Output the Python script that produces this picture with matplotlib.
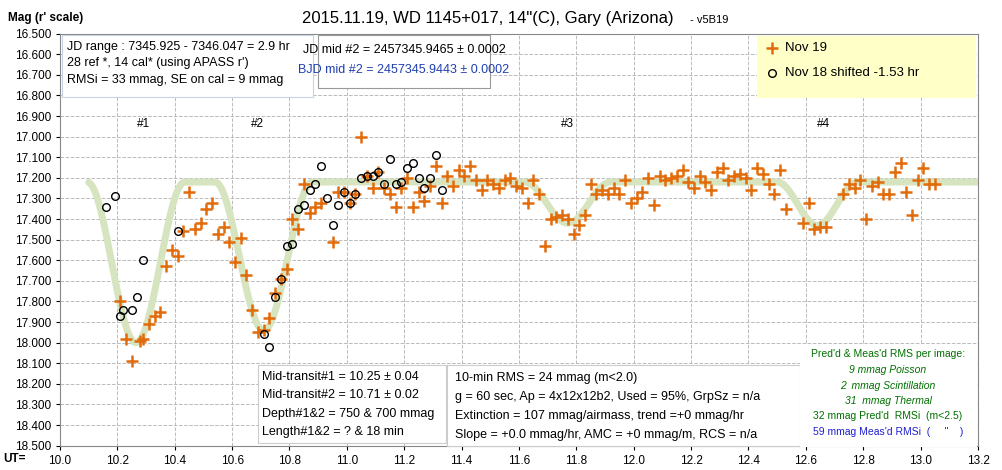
import numpy as np
import matplotlib.pyplot as plt
from matplotlib.patches import Rectangle
from matplotlib.lines import Line2D

plt.rcParams['font.family'] = ['Liberation Sans', 'DejaVu Sans']

# Nov 19 data (UT hr, mag)
nov19_t = [10.21, 10.23, 10.25, 10.28, 10.29, 10.31, 10.33, 10.35, 10.37, 10.39, 10.41, 10.43, 10.45, 10.47,
           10.49, 10.51, 10.53, 10.55, 10.57, 10.59, 10.61, 10.63, 10.65, 10.67, 10.69, 10.71, 10.73, 10.75,
           10.77, 10.79, 10.81, 10.83, 10.85, 10.87, 10.89, 10.91, 10.95, 10.97, 10.99, 11.01, 11.03, 11.05,
           11.07, 11.09, 11.11, 11.13, 11.15, 11.17, 11.19, 11.21, 11.23, 11.25, 11.27, 11.29, 11.31, 11.33,
           11.35, 11.37, 11.39, 11.41, 11.43, 11.45, 11.47, 11.49, 11.51, 11.53, 11.55, 11.57, 11.59, 11.61,
           11.63, 11.65, 11.67, 11.69, 11.71, 11.73, 11.75, 11.77, 11.79, 11.81, 11.83, 11.85, 11.87, 11.89,
           11.91, 11.93, 11.95, 11.97, 11.99, 12.01, 12.03, 12.05, 12.07, 12.09, 12.11, 12.13, 12.15, 12.17,
           12.19, 12.21, 12.23, 12.25, 12.27, 12.29, 12.31, 12.33, 12.35, 12.37, 12.39, 12.41, 12.43, 12.45,
           12.47, 12.49, 12.51, 12.53, 12.59, 12.61, 12.63, 12.65, 12.67, 12.73, 12.75, 12.77, 12.79, 12.81,
           12.83, 12.85, 12.87, 12.89, 12.91, 12.93, 12.95, 12.97, 12.99, 13.01, 13.03, 13.05]
nov19_m = [17.80, 17.98, 18.09, 17.99, 17.98, 17.91, 17.87, 17.85, 17.63, 17.55, 17.58, 17.46, 17.27, 17.45,
           17.42, 17.35, 17.32, 17.47, 17.44, 17.51, 17.61, 17.49, 17.67, 17.84, 17.95, 17.94, 17.88, 17.76,
           17.69, 17.64, 17.40, 17.45, 17.23, 17.37, 17.34, 17.32, 17.51, 17.27, 17.27, 17.32, 17.28, 17.00,
           17.19, 17.25, 17.17, 17.25, 17.28, 17.34, 17.25, 17.20, 17.34, 17.27, 17.31, 17.24, 17.14, 17.32,
           17.19, 17.24, 17.16, 17.19, 17.14, 17.21, 17.26, 17.21, 17.23, 17.25, 17.21, 17.20, 17.24, 17.25,
           17.32, 17.21, 17.28, 17.53, 17.40, 17.39, 17.38, 17.40, 17.47, 17.43, 17.38, 17.23, 17.28, 17.26,
           17.28, 17.25, 17.28, 17.21, 17.32, 17.30, 17.27, 17.20, 17.33, 17.19, 17.21, 17.20, 17.19, 17.16,
           17.22, 17.25, 17.19, 17.22, 17.26, 17.17, 17.15, 17.21, 17.19, 17.18, 17.20, 17.26, 17.15, 17.18,
           17.23, 17.28, 17.16, 17.35, 17.42, 17.32, 17.45, 17.44, 17.44, 17.28, 17.23, 17.25, 17.21, 17.40,
           17.24, 17.22, 17.28, 17.28, 17.17, 17.13, 17.27, 17.38, 17.21, 17.15, 17.23, 17.23]

# Nov 18 shifted data
nov18_t = [10.16, 10.19, 10.21, 10.22, 10.25, 10.27, 10.29, 10.41, 10.71, 10.73, 10.75, 10.77, 10.79, 10.81,
           10.83, 10.85, 10.87, 10.89, 10.91, 10.93, 10.95, 10.97, 10.99, 11.01, 11.03, 11.05, 11.07, 11.09,
           11.11, 11.13, 11.15, 11.17, 11.19, 11.21, 11.23, 11.25, 11.27, 11.29, 11.31, 11.33]
nov18_m = [17.34, 17.29, 17.87, 17.84, 17.84, 17.78, 17.60, 17.46, 17.96, 18.02, 17.78, 17.69, 17.53, 17.52,
           17.35, 17.33, 17.26, 17.23, 17.14, 17.30, 17.43, 17.33, 17.27, 17.32, 17.28, 17.20, 17.19, 17.19,
           17.17, 17.23, 17.11, 17.23, 17.22, 17.15, 17.13, 17.20, 17.25, 17.20, 17.09, 17.26]

# model: baseline and dips (center, depth, half-width)
base_mag = 17.22
dip_center = [10.265, 10.71, 11.77, 12.64]
dip_depth = [0.78, 0.72, 0.20, 0.21]
dip_halfw = [0.17, 0.17, 0.15, 0.14]
dip_labels = ['#1', '#2', '#3', '#4']
dip_label_x = [10.29, 10.69, 11.77, 12.66]

t = np.linspace(10.10, 13.20, 800)
model = np.full_like(t, base_mag)
for c, d, w in zip(dip_center, dip_depth, dip_halfw):
    u = np.clip((t - c) / w, -1, 1)
    model += d * np.cos(u * np.pi / 2) ** 2

W, H = 1002, 470
fig = plt.figure(figsize=(W / 100, H / 100), dpi=100)
ax = fig.add_axes([60 / W, 1 - 445.7 / H, 918 / W, 412 / H])
ax.plot(t, model, color='#d6e4bf', lw=5, solid_capstyle='round', zorder=2)
ax.plot(nov19_t, nov19_m, '+', color='#e26b0a', ms=9, mew=1.8, ls='none', zorder=3)
ax.plot(nov18_t, nov18_m, 'o', mfc='none', mec='black', ms=5.5, mew=1, ls='none', zorder=4)

ax.set_xlim(10.0, 13.2)
ax.set_ylim(18.5, 16.5)
xt = np.arange(10.0, 13.21, 0.2)
yt = np.arange(16.5, 18.51, 0.1)
ax.set_xticks(xt)
ax.set_yticks(yt)
ax.set_xticklabels([f'{v:.1f}' for v in xt], fontsize=8.5)
ax.set_yticklabels([f'{v:.3f}' for v in yt], fontsize=8.5)
ax.grid(True, color='#bbbbbb', ls='--', lw=0.7)
ax.tick_params(length=3)
for s in ax.spines.values():
    s.set_color('#888888')

for lab, x in zip(dip_labels, dip_label_x):
    ax.text(x, 16.94, lab, ha='center', va='center', fontsize=8.5)


def px(x, y):
    return x / W, 1 - y / H


def box(x0, y0, x1, y1, fc='white', ec='#c8d4e4'):
    fig.add_artist(Rectangle(px(x0, y1), (x1 - x0) / W, (y1 - y0) / H, transform=fig.transFigure,
                             fc=fc, ec=ec, lw=0.8, zorder=5))


def txt(x, y, s, size=9, color='black', ha='left', **kw):
    fig.text(*px(x, y), s, fontsize=size, color=color, ha=ha, va='center', zorder=6, **kw)


txt(488, 19, '2015.11.19, WD 1145+017, 14"(C), Gary (Arizona)', size=12, ha='center')
txt(690, 20, '- v5B19', size=8)
txt(8, 18, "Mag (r' scale)", size=8.5, fontweight='bold')
txt(3, 459, 'UT=', size=8.5, fontweight='bold')

box(62, 35, 313, 97)
txt(67, 47, 'JD range : 7345.925 - 7346.047 = 2.9 hr')
txt(67, 63, "28 ref *, 14 cal* (using APASS r')")
txt(67, 80, 'RMSi = 33 mmag, SE on cal = 9 mmag')

box(318, 35, 490, 88, ec='#999999')
txt(404, 50, 'JD mid #2 = 2457345.9465 ± 0.0002', size=9, ha='center')
txt(404, 70, 'BJD mid #2 = 2457345.9443 ± 0.0002', size=9, ha='center', color='#1f3fb0')

box(757, 36, 975, 97, fc='#ffffc8', ec='#ffffc8')
fig.add_artist(Line2D([772 / W], [1 - 48 / H], marker='+', color='#e26b0a', ms=9, mew=1.8,
                      transform=fig.transFigure, zorder=6))
fig.add_artist(Line2D([772 / W], [1 - 73 / H], marker='o', mfc='none', mec='black', ms=5.5, mew=1,
                      transform=fig.transFigure, zorder=6))
txt(785, 48, 'Nov 19', size=9.5)
txt(785, 73, 'Nov 18 shifted -1.53 hr', size=9.5)

box(258, 365, 446, 443, ec='#cccccc')
for i, s in enumerate(['Mid-transit#1 = 10.25 ± 0.04', 'Mid-transit#2 = 10.71 ± 0.02',
                       'Depth#1&2 = 750 & 700 mmag', 'Length#1&2 = ? & 18 min']):
    txt(262, 377 + 18.5 * i, s)

box(447, 365, 800, 446, ec='#cccccc')
for i, s in enumerate(['10-min RMS = 24 mmag (m<2.0)', 'g = 60 sec, Ap = 4x12x12b2, Used = 95%, GrpSz = n/a',
                       'Extinction = 107 mmag/airmass, trend =+0 mmag/hr',
                       'Slope = +0.0 mmag/hr, AMC = +0 mmag/m, RCS = n/a']):
    txt(455, 378 + 19 * i, s)

box(800, 345, 976, 446, ec='white')
green = '#007000'
txt(888, 354, "Pred'd & Meas'd RMS per image:", size=7.5, color=green, ha='center')
txt(888, 370, '9 mmag Poisson', size=7.5, color=green, ha='center', style='italic')
txt(888, 386, '2  mmag Scintillation', size=7.5, color=green, ha='center', style='italic')
txt(888, 401, '31  mmag Thermal', size=7.5, color=green, ha='center', style='italic')
txt(888, 416, "32 mmag Pred'd  RMSi  (m<2.5)", size=7.5, color=green, ha='center')
txt(888, 432, "59 mmag Meas'd RMSi  (     \"    )", size=7.5, color='#1f1fd0', ha='center')

fig.savefig('out.png', dpi=100)
